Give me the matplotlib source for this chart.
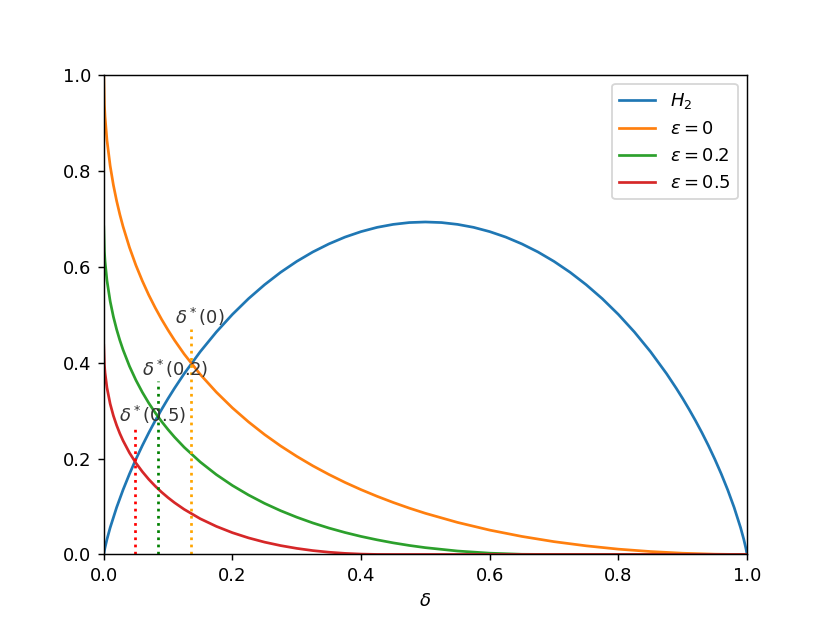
import matplotlib
matplotlib.use("Agg")
import matplotlib.pyplot as plt

# binary entropy (nats)
delta_h = [0, 0.001, 0.002, 0.005, 0.01, 0.02, 0.03, 0.04, 0.05, 0.06, 0.07, 0.08, 0.09, 0.1,
           0.11, 0.125, 0.15, 0.175, 0.2, 0.225, 0.25, 0.275, 0.3, 0.325, 0.35, 0.375, 0.4,
           0.425, 0.45, 0.475, 0.5,
           0.525, 0.55, 0.575, 0.6, 0.625, 0.65, 0.675, 0.7, 0.725, 0.75, 0.775, 0.8, 0.825,
           0.85, 0.875, 0.89, 0.9, 0.91, 0.92, 0.93, 0.94, 0.95, 0.96, 0.97, 0.98, 0.99, 0.995,
           0.998, 0.999, 1.0]
h2 = [0, 0.0079, 0.0144, 0.0315, 0.0560, 0.0980, 0.1347, 0.1679, 0.1985, 0.2270, 0.2537, 0.2788,
      0.3025, 0.3251, 0.3465, 0.3768, 0.4227, 0.4637, 0.5004, 0.5332, 0.5623, 0.5882, 0.6109,
      0.6306, 0.6474, 0.6616, 0.6730, 0.6819, 0.6881, 0.6919, 0.6931,
      0.6919, 0.6881, 0.6819, 0.6730, 0.6616, 0.6474, 0.6306, 0.6109, 0.5882, 0.5623, 0.5332,
      0.5004, 0.4637, 0.4227, 0.3768, 0.3465, 0.3251, 0.3025, 0.2788, 0.2537, 0.2270, 0.1985,
      0.1679, 0.1347, 0.0980, 0.0560, 0.0315, 0.0144, 0.0079, 0]

# decaying curves for each epsilon
delta = [0, 0.001, 0.002, 0.005, 0.01, 0.015, 0.02, 0.025, 0.03, 0.04,
         0.05, 0.06, 0.07, 0.08, 0.09, 0.1, 0.11, 0.125, 0.15, 0.175,
         0.2, 0.225, 0.25, 0.275, 0.3, 0.325, 0.35, 0.375, 0.4, 0.425,
         0.45, 0.475, 0.5,
         0.55, 0.6, 0.65, 0.7, 0.75, 0.8, 0.85, 0.9, 0.95, 0.98, 1.0]
eps_0 = [1.0, 0.9378, 0.9126, 0.8636, 0.81, 0.7700, 0.7372, 0.7088, 0.6836, 0.64,
         0.6028, 0.5702, 0.5408, 0.5144, 0.49, 0.4676, 0.4466, 0.4178, 0.3754, 0.3384,
         0.3056, 0.2764, 0.25, 0.2262, 0.2046, 0.1848, 0.1668, 0.1502, 0.1351, 0.1212,
         0.1084, 0.0966, 0.0858,
         0.0668, 0.0508, 0.0376, 0.0267, 0.0180, 0.0111, 0.0061, 0.0026, 0.0006, 0.0001, 0]
eps_02 = [0.683, 0.6317, 0.6111, 0.5711, 0.5277, 0.4955, 0.4692, 0.4466, 0.4267, 0.3924,
          0.3634, 0.3381, 0.3156, 0.2955, 0.2771, 0.2603, 0.2447, 0.2235, 0.1928, 0.1665,
          0.1438, 0.1240, 0.1065, 0.0912, 0.0777, 0.0657, 0.0551, 0.0458, 0.0376, 0.0305,
          0.0242, 0.0188, 0.0142,
          0.0072, 0.0027, 0.0004, 0, 0, 0, 0, 0, 0, 0, 0]
eps_05 = [0.436, 0.3953, 0.3790, 0.3476, 0.3139, 0.2892, 0.2693, 0.2522, 0.2373, 0.2119,
          0.1907, 0.1726, 0.1566, 0.1425, 0.1298, 0.1184, 0.1080, 0.0941, 0.0745, 0.0586,
          0.0454, 0.0346, 0.0257, 0.0185, 0.0127, 0.0081, 0.0047, 0.0023, 0.0008, 0.0001,
          0, 0, 0,
          0, 0, 0, 0, 0, 0, 0, 0, 0, 0, 0]

# crossing points delta*(eps) and heights of the marker lines
star_x = [0.136, 0.0846, 0.0485]
star_top = [0.47, 0.362, 0.266]
star_labels = [r"$\delta^*(0)$", r"$\delta^*(0.2)$", r"$\delta^*(0.5)$"]
star_colors = ["orange", "green", "red"]

fig, ax = plt.subplots(figsize=(830 / 130, 623 / 130), dpi=130)
ax.plot(delta_h, h2, label=r"$H_2$")
ax.plot(delta, eps_0, label=r"$\varepsilon = 0$")
ax.plot(delta, eps_02, label=r"$\varepsilon = 0.2$")
ax.plot(delta, eps_05, label=r"$\varepsilon = 0.5$")

for x, top, lab, col in zip(star_x, star_top, star_labels, star_colors):
    ax.plot([x, x], [0, top], linestyle=":", color=col, linewidth=1.5)
    ax.text(x - 0.025, top + 0.025, lab, color="0.2", va="center", ha="left")

ax.set_xlim(0, 1)
ax.set_ylim(0, 1)
ax.set_xlabel(r"$\delta$")
ax.legend(loc="upper right")

fig.savefig("out.png")
